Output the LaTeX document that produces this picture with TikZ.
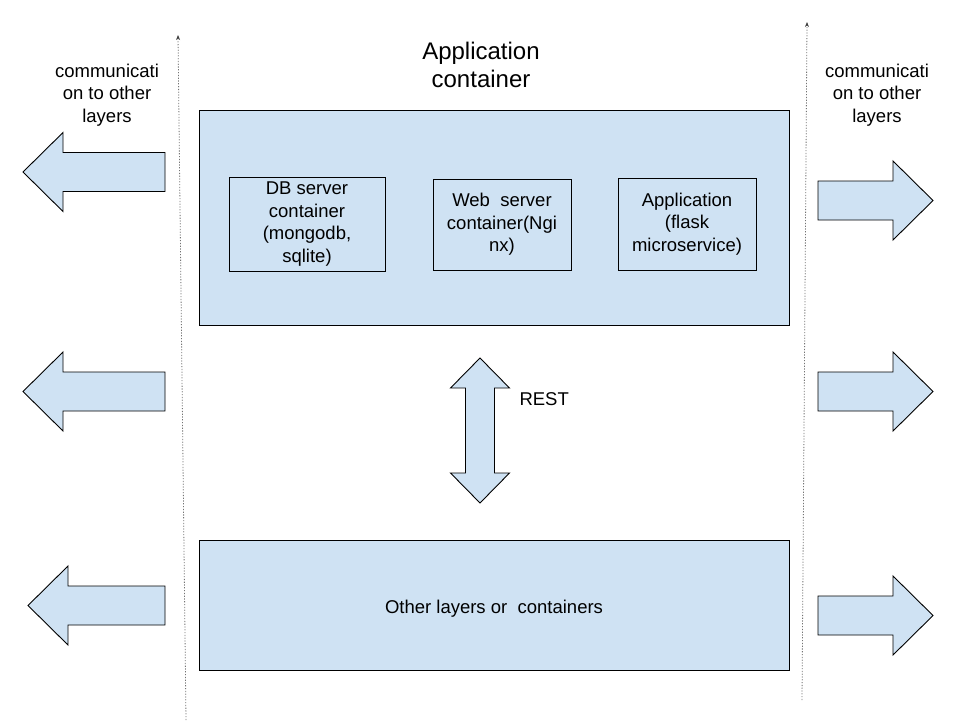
\documentclass[tikz,border=0pt]{standalone}
\usepackage{fontspec}
\setmainfont{Liberation Sans}
\usetikzlibrary{arrows.meta}
\definecolor{boxblue}{HTML}{CFE2F3}
\def\leftblock(#1:#2:#3:#4){\draw[blockarrow] (#1,#4) -- (#2,#4-39.5) -- (#2,#4-19.5) -- (#3,#4-19.5) -- (#3,#4+19.5) -- (#2,#4+19.5) -- (#2,#4+39.5) -- cycle;}
\def\rightblock(#1:#2:#3:#4){\draw[blockarrow] (#1,#4) -- (#2,#4-39.5) -- (#2,#4-19.5) -- (#3,#4-19.5) -- (#3,#4+19.5) -- (#2,#4+19.5) -- (#2,#4+39.5) -- cycle;}

\tikzset{
	blockarrow/.style={draw=black, fill=boxblue, line width=0.9pt, line join=miter},
	layerbox/.style={draw=black, fill=boxblue, line width=0.9pt, inner sep=0pt, align=center,
		font=\fontsize{18.5}{22.5}\selectfont},
	innerbox/.style={layerbox},
	label text/.style={align=center, font=\fontsize{18.5}{22.5}\selectfont},
	guide/.style={draw=black!55, line width=0.8pt, dash pattern=on 1.2pt off 1.6pt,
		-{Stealth[length=5pt,width=4pt,black!75]}},
}

\begin{document}
\begin{tikzpicture}[x=1pt, y=-1pt]
		%%%%% START %%%%%
		\useasboundingbox (0,0) rectangle (960,720);
		
		% layer borders
		\coordinate (leftfoot) at (186,720);
		\coordinate (lefthead) at (178,35);
		\coordinate (rightfoot) at (802,700);
		\coordinate (righthead) at (807,22);
		\draw[guide] (leftfoot) -- (lefthead);
		\draw[guide] (rightfoot) -- (righthead);
		
		% application container
		\node[font=\fontsize{24}{28}\selectfont, align=center] (title) at (481,64.5) {Application\\container};
		\node[layerbox, minimum width=590, minimum height=215] (appbox) at (494,217.5) {};
		\node[innerbox, minimum width=156, minimum height=94] (dbbox) at (307,224) {DB server\\container\\(mongodb,\\sqlite)};
		\node[innerbox, minimum width=138, minimum height=91] (webbox) at (502,224.5) {Web~ server\\container(Ngi\\nx)};
		\node[innerbox, minimum width=138, minimum height=92] (flaskbox) at (687,224) {Application\\(flask\\microservice)};
		
		% REST link
		\draw[blockarrow] (480,358) -- (509.5,388) -- (494.5,388) -- (494.5,473) -- (509.5,473) -- (480,503)
			-- (450.5,473) -- (465.5,473) -- (465.5,388) -- (450.5,388) -- cycle;
		\node[label text, anchor=west] (rest) at (516,399) {REST};
		
		% other layers
		\node[layerbox, minimum width=590, minimum height=130, text height=17pt, text depth=1pt] (otherbox) at (494,605) {Other layers or~ containers};
		
		% communication
		\node[label text] (commleft) at (107,95) {communicati\\on to other\\layers};
		\node[label text] (commright) at (877,95) {communicati\\on to other\\layers};
		
		\leftblock(23:63:165:172);
		\leftblock(23:63:165:391.5);
		\leftblock(28:68:165:605.5);
		
		\rightblock(933:893:818:200.5);
		\rightblock(933:893:818:391.5);
		\rightblock(933:893:818:615.5);
		
		%%%%% END %%%%%
	\end{tikzpicture}
\end{document}
